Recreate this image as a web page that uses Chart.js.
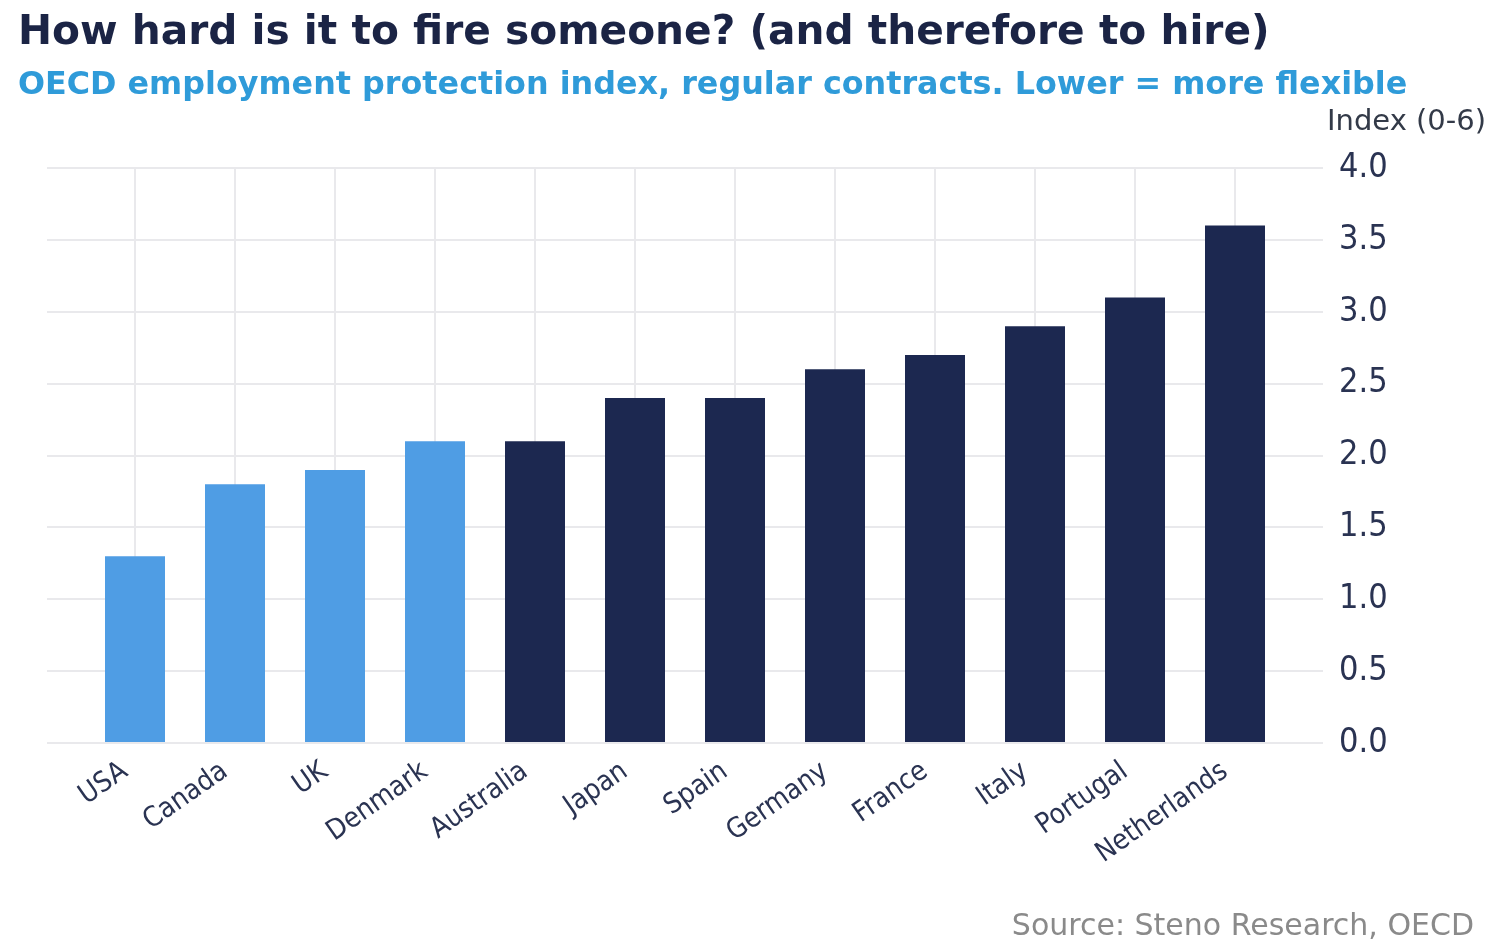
<!DOCTYPE html>
<html>
<head>
<meta charset="utf-8">
<script src="https://cdn.jsdelivr.net/npm/chart.js@4.4.1/dist/chart.umd.min.js"></script>
<style>
  html, body { margin: 0; padding: 0; background: #ffffff; }
  #chart { display: block; }
</style>
</head>
<body>
<canvas id="chart" width="1486" height="946"></canvas>
<script>
// values
const countries = ["USA", "Canada", "UK", "Denmark", "Australia", "Japan", "Spain", "Germany", "France", "Italy", "Portugal", "Netherlands"];
const protectionIndex = [1.3, 1.8, 1.9, 2.1, 2.1, 2.4, 2.4, 2.6, 2.7, 2.9, 3.1, 3.6];
const flexibleGroup = ["USA", "Canada", "UK", "Denmark"];

const titleText = "How hard is it to fire someone? (and therefore to hire)";
const subtitleText = "OECD employment protection index, regular contracts. Lower = more flexible";
const unitText = "Index (0-6)";
const sourceText = "Source: Steno Research, OECD";

const LIGHT_BLUE = "#4f9de4";
const NAVY = "#1c2850";
const FONT = '"DejaVu Sans", Verdana, sans-serif';
const NARROW = '"DejaVu Sans Condensed", "DejaVu Sans", sans-serif';

const points = countries.map((c, i) => ({ x: i, y: protectionIndex[i] }));
const colours = countries.map(c => flexibleGroup.includes(c) ? LIGHT_BLUE : NAVY);

// titles, unit label and source line
const textPlugin = {
    id: "textBlocks",
    afterDraw(chart) {
        const ctx = chart.ctx;
        ctx.save();
        ctx.textBaseline = "alphabetic";

        ctx.textAlign = "left";
        ctx.fillStyle = "#1b2445";
        ctx.font = "bold 40.7px " + FONT;
        ctx.fillText(titleText, 18, 44);

        ctx.fillStyle = "#2f9bd9";
        ctx.font = "bold 31.8px " + FONT;
        ctx.fillText(subtitleText, 18, 94);

        ctx.textAlign = "right";
        ctx.fillStyle = "#333a48";
        ctx.font = "29px " + FONT;
        ctx.fillText(unitText, 1486, 130);

        ctx.fillStyle = "#8a8a8a";
        ctx.font = "30px " + FONT;
        ctx.fillText(sourceText, 1474, 935);

        ctx.restore();
    }
};

new Chart(document.getElementById("chart"), {
    type: "bar",
    data: {
        datasets: [{
            data: points,
            backgroundColor: colours,
            borderWidth: 0,
            categoryPercentage: 1,
            barPercentage: 0.6
        }]
    },
    options: {
        responsive: false,
        animation: false,
        layout: { padding: { top: 168, left: 47, right: 0, bottom: 73 } },
        plugins: {
            legend: { display: false },
            tooltip: { enabled: false }
        },
        scales: {
            x: {
                type: "linear",
                offset: false,
                min: -0.88,
                max: 11.88,
                afterBuildTicks: s => { s.ticks = countries.map((c, i) => ({ value: i })); },
                afterFit: s => { s.height = 130; },
                border: { display: false },
                grid: { color: "#e9e9ec", lineWidth: 2, drawTicks: false, offset: false },
                ticks: {
                    autoSkip: false,
                    minRotation: 35,
                    maxRotation: 35,
                    padding: 12,
                    labelOffset: -10,
                    color: "#2a3352",
                    font: { family: NARROW, size: 28 },
                    callback: v => countries[v] ?? ""
                }
            },
            y: {
                position: "right",
                min: 0,
                max: 4,
                afterFit: s => { s.width = 163; },
                border: { display: false },
                grid: { color: "#e9e9ec", lineWidth: 2, drawTicks: false },
                ticks: {
                    stepSize: 0.5,
                    padding: 16,
                    color: "#2a3352",
                    font: { family: NARROW, size: 34 },
                    callback: v => v.toFixed(1)
                }
            }
        }
    },
    plugins: [textPlugin]
});
</script>
</body>
</html>
